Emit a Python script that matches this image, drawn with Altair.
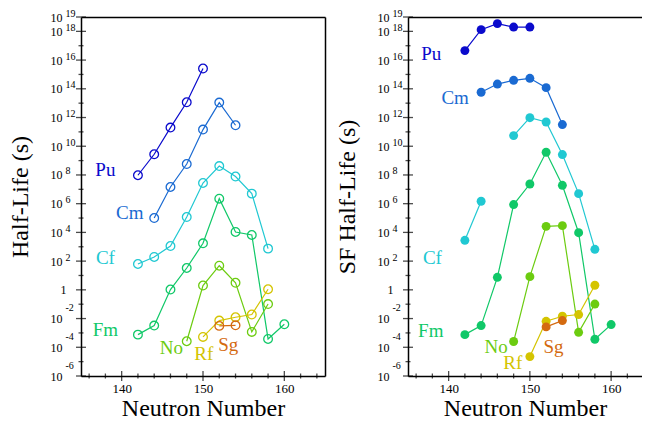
import altair as alt
import pandas as pd

SERIF = "Liberation Serif"
elements = ["Pu", "Cm", "Cf", "Fm", "No", "Rf", "Sg"]
colors = ["#0a0acc", "#1a6ad2", "#20c8d2", "#10c868", "#6ccc10", "#d4c400", "#d46a10"]

# ---- total half-life (log10 of seconds), left panel ----
pu_n = [142, 144, 146, 148, 150]
pu_hl = [7.98, 9.44, 11.30, 13.06, 15.41]
cm_n = [144, 146, 148, 150, 152, 154]
cm_hl = [5.0, 7.16, 8.76, 11.16, 13.04, 11.46]
cf_n = [142, 144, 146, 148, 150, 152, 154, 156, 158]
cf_hl = [1.8, 2.29, 3.05, 5.07, 7.44, 8.62, 7.89, 6.70, 2.87]
fm_n = [142, 144, 146, 148, 150, 152, 154, 156, 158, 160]
fm_hl = [-3.12, -2.49, 0.02, 1.52, 3.24, 6.35, 4.03, 3.82, -3.42, -2.40]
no_n = [148, 150, 152, 154, 156, 158]
no_hl = [-3.58, 0.30, 1.68, 0.49, -2.93, -0.99]
rf_n = [150, 152, 154, 156, 158]
rf_hl = [-3.28, -2.14, -1.91, -1.72, 0.04]
sg_n = [152, 154]
sg_hl = [-2.51, -2.47]

# ---- spontaneous-fission half-life (log10 of seconds), right panel ----
pu_sf_n = [142, 144, 146, 148, 150]
pu_sf = [16.66, 18.12, 18.54, 18.30, 18.30]
cm_sf_n = [144, 146, 148, 150, 152, 154]
cm_sf = [13.76, 14.33, 14.59, 14.73, 14.08, 11.51]
cf_sf_n = [142, 144, 148, 150, 152, 154, 156, 158]
cf_sf = [3.45, 6.17, 10.74, 11.99, 11.69, 9.42, 6.70, 2.82]
fm_sf_n = [142, 144, 146, 148, 150, 152, 154, 156, 158, 160]
fm_sf = [-3.12, -2.49, 0.87, 5.94, 7.37, 9.58, 7.28, 3.98, -3.44, -2.42]
no_sf_n = [148, 150, 152, 154, 156, 158]
no_sf = [-3.60, 0.92, 4.42, 4.47, -2.96, -0.99]
rf_sf_n = [150, 152, 154, 156, 158]
rf_sf = [-4.65, -2.19, -1.84, -1.72, 0.32]
sg_sf_n = [152, 154]
sg_sf = [-2.58, -2.14]

# ---- series name labels (neutron number, log10 s) ----
left_lab_n = [138.0, 141.0, 138.0, 138.0, 146.1, 150.1, 153.1]
left_lab_e = [8.32, 5.33, 2.2, -2.8, -4.07, -4.49, -3.86]
right_lab_n = [137.85, 140.8, 138.0, 137.8, 145.85, 147.9, 152.9]
right_lab_e = [16.4, 13.36, 2.2, -2.89, -3.98, -5.1, -3.98]

# ---- axis ticks ----
y_label_exps = [-6, -4, -2, 0, 2, 4, 6, 8, 10, 12, 14, 16, 18, 19]
y_minor_exps = [-5, -3, -1, 1, 3, 5, 7, 9, 11, 13, 15, 17]
x_label_vals = [140, 150, 160]
x_minor_vals = [136, 138, 142, 144, 146, 148, 152, 154, 156, 158, 162, 164]

H = 359
LEFT_W, RIGHT_W = 244, 234
LEFT_XMAX, RIGHT_XMAX = 165, 163.8


def series_frame(pairs):
    rows = []
    for el, ns, es in pairs:
        seg = 0
        prev = None
        for n, e in zip(ns, es):
            if prev is not None and n - prev > 2:
                seg += 1
            rows.append({"el": el, "n": n, "v": 10.0 ** e, "seg": f"{el}{seg}"})
            prev = n
    return pd.DataFrame(rows)


left_df = series_frame([
    ("Pu", pu_n, pu_hl), ("Cm", cm_n, cm_hl), ("Cf", cf_n, cf_hl), ("Fm", fm_n, fm_hl),
    ("No", no_n, no_hl), ("Rf", rf_n, rf_hl), ("Sg", sg_n, sg_hl)])
right_df = series_frame([
    ("Pu", pu_sf_n, pu_sf), ("Cm", cm_sf_n, cm_sf), ("Cf", cf_sf_n, cf_sf), ("Fm", fm_sf_n, fm_sf),
    ("No", no_sf_n, no_sf), ("Rf", rf_sf_n, rf_sf), ("Sg", sg_sf_n, sg_sf)])
left_lab = pd.DataFrame({"el": elements, "n": left_lab_n, "v": [10.0 ** e for e in left_lab_e]})
right_lab = pd.DataFrame({"el": elements, "n": right_lab_n, "v": [10.0 ** e for e in right_lab_e]})

EXP = "round(log(datum.value)/LN10)"
y_label_vals = [10.0 ** e for e in y_label_exps]
ytick_df = pd.DataFrame({
    "v": y_label_vals + [10.0 ** e for e in y_minor_exps],
    "len": [10] * len(y_label_exps) + [5] * len(y_minor_exps)})


def panel(df, lab, ytitle, filled, width, xmax, right_border):
    xs = alt.Scale(domain=[135, xmax], nice=False, zero=False)
    ys = alt.Scale(type="log", domain=[1e-6, 1e19], nice=False)
    col = alt.Color("el:N", scale=alt.Scale(domain=elements, range=colors), legend=None)
    xt = [v for v in x_label_vals + x_minor_vals if v < xmax]
    xtick_df = pd.DataFrame({"n": xt, "len": [10 if v % 10 == 0 else 5 for v in xt]})

    main_y = alt.Axis(
        values=y_label_vals, labelExpr=f"{EXP} == 0 ? '1' : '10'", ticks=False, tickSize=0,
        domain=True, domainColor="black", domainWidth=1.5, grid=False,
        labelFont=SERIF, labelFontSize=12, labelColor="#000000", labelOverlap=False, labelFlush=False,
        labelPadding={"condition": {"test": "datum.value == 1", "value": 15}, "value": 19},
        title=ytitle, titleFont=SERIF, titleFontSize=24, titleFontWeight="normal",
        titleColor="#000000", titlePadding=18)
    main_x = alt.Axis(
        values=x_label_vals, ticks=False, tickSize=0, domain=True, domainColor="black",
        domainWidth=1.5, grid=False, labelFont=SERIF, labelFontSize=13, labelColor="#000000",
        labelFlush=False, labelPadding=6, title="Neutron Number", titleFont=SERIF,
        titleFontSize=24, titleFontWeight="normal", titleColor="#000000", titlePadding=1)
    exp_y = alt.Axis(
        orient="left", values=y_label_vals, labelExpr=f"{EXP} == 0 ? '' : '' + {EXP}",
        ticks=False, tickSize=0, domain=False, grid=False, labelAlign="left", labelPadding=16,
        labelOffset={"condition": {"test": "datum.value < 1", "value": -11}, "value": -4},
        labelFont=SERIF, labelFontSize=10, labelColor="#000000", labelOverlap=False,
        labelFlush=False, title=None)
    top_x = alt.Axis(orient="top", labels=False, ticks=False, grid=False, domain=True,
                     domainColor="black", domainWidth=1.5, title=None)
    right_y = alt.Axis(orient="right", labels=False, ticks=False, grid=False, domain=True,
                       domainColor="black", domainWidth=1.5, title=None) if right_border else None

    lines = alt.Chart(df).mark_line(strokeWidth=1.2).encode(
        x=alt.X("n:Q", scale=xs, axis=main_x),
        y=alt.Y("v:Q", scale=ys, axis=main_y),
        color=col, detail="seg:N")
    if filled:
        pts = alt.Chart(df).mark_point(shape="circle", filled=True, size=80, opacity=1)
    else:
        pts = alt.Chart(df).mark_point(shape="circle", filled=False, size=75, strokeWidth=1.3, opacity=1)
    pts = pts.encode(
        x=alt.X("n:Q", scale=xs, axis=top_x),
        y=alt.Y("v:Q", scale=ys, axis=exp_y),
        color=col)
    yticks = alt.Chart(ytick_df).mark_tick(orient="horizontal", thickness=1.3, color="black").encode(
        y=alt.Y("v:Q", scale=ys, axis=None),
        x=alt.value(0),
        size=alt.Size("len:Q", scale=None, legend=None))
    xticks = alt.Chart(xtick_df).mark_tick(orient="vertical", thickness=1.3, color="black").encode(
        x=alt.X("n:Q", scale=xs, axis=None),
        y=alt.value(H),
        size=alt.Size("len:Q", scale=None, legend=None))
    texts = alt.Chart(lab).mark_text(font=SERIF, fontSize=19, align="center", baseline="middle").encode(
        x=alt.X("n:Q", scale=xs, axis=None),
        y=alt.Y("v:Q", scale=ys, axis=right_y),
        text="el:N", color=col)
    return alt.layer(lines, pts, yticks, xticks, texts).resolve_axis(
        x="independent", y="independent").properties(width=width, height=H)


left = panel(left_df, left_lab, "Half-Life (s)", False, LEFT_W, LEFT_XMAX, True)
right = panel(right_df, right_lab, "SF Half-Life (s)", True, RIGHT_W, RIGHT_XMAX, False)

chart = alt.hconcat(left, right, spacing=10).properties(
    padding={"left": 0, "top": 0, "right": 0, "bottom": 0}
).configure_view(stroke=None)

chart.save("out.html", embed_options={"renderer": "svg", "actions": False})
